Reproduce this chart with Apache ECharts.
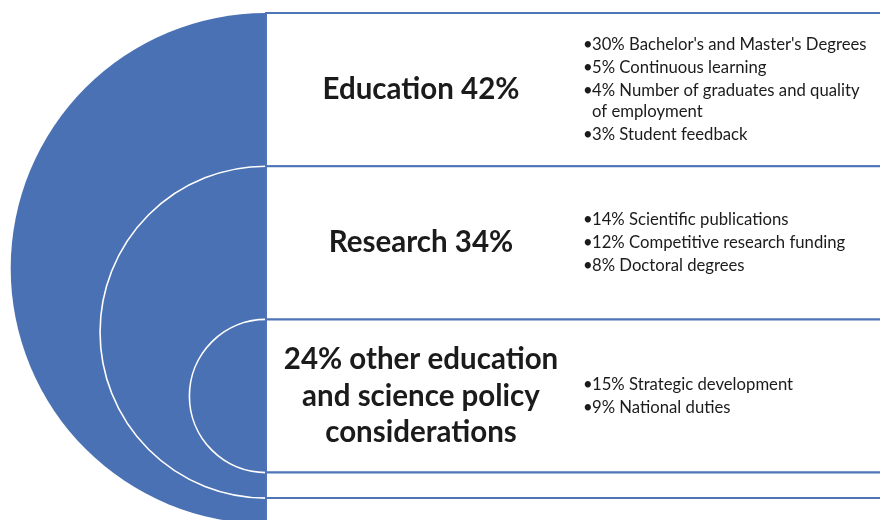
<!DOCTYPE html>
<html><head><meta charset="utf-8">
<script src="https://cdn.jsdelivr.net/npm/echarts@6/dist/echarts.min.js"></script>
<style>html,body{margin:0;padding:0;background:#fff}#main{width:880px;height:520px}</style>
</head><body><div id="main"></div>
<script>
// ---- data ----
const categories = ['Education', 'Research', 'Other education and science policy considerations'];
const shares = [42, 34, 24];
const titles = ['Education 42%', 'Research 34%', '24% other education\nand science policy\nconsiderations'];
const educationItems = ["30% Bachelor's and Master's Degrees", '5% Continuous learning', '4% Number of graduates and quality\nof employment', '3% Student feedback'];
const researchItems = ['14% Scientific publications', '12% Competitive research funding', '8% Doctoral degrees'];
const otherItems = ['15% Strategic development', '9% National duties'];
const detailItems = [educationItems, researchItems, otherItems];

// ---- layout / style ----
const BLUE = '#4A71B4';
const LINE = '#4E75B8';
const TEXT = '#1b1b1b';
const L = { boxLeft: 266, boxRight: 888, top: 13, rowH: 153.2, tail: 25.5,
            titleX: 421, bulletX: 583, textX: 592, itemGap: 23, wrapGap: 20.5,
            titleSize: 29.5, titleLH: 36.5, bodySize: 16.7 };

function rowTop(i) { return L.top + i * L.rowH; }

function renderCircle(params, api) {
  const i = params.dataIndex;
  const top = rowTop(i);
  const bottom = rowTop(categories.length) + (categories.length - 1 - i) * L.tail;
  const c = api.coord([L.boxLeft, (top + bottom) / 2]);
  const r = Math.abs(api.size([0, (bottom - top) / 2])[1]);
  const children = [{
    type: 'sector',
    shape: { cx: c[0], cy: c[1], r0: 0, r: r, startAngle: Math.PI / 2, endAngle: Math.PI * 1.5, clockwise: true },
    style: { fill: BLUE }
  }];
  if (i > 0) {
    children.push({
      type: 'arc',
      shape: { cx: c[0], cy: c[1], r: r, startAngle: Math.PI / 2, endAngle: Math.PI * 1.5, clockwise: true },
      style: { stroke: '#ffffff', lineWidth: 1.6, fill: null }
    });
  }
  return { type: 'group', children };
}

function boxRect(api, y0, y1) {
  const p0 = api.coord([L.boxLeft, y0]);
  const p1 = api.coord([L.boxRight, y1]);
  return { type: 'rect',
    shape: { x: p0[0], y: p0[1], width: p1[0] - p0[0], height: p1[1] - p0[1] },
    style: { fill: '#ffffff', stroke: LINE, lineWidth: 2 } };
}

function renderRow(params, api) {
  const i = params.dataIndex;
  const n = categories.length;
  const top = rowTop(i), bot = rowTop(i + 1), mid = (top + bot) / 2;
  const children = [];
  children.push(boxRect(api, top, bot));
  if (i === n - 1) {
    const base = rowTop(n);
    for (let k = 0; k < n - 1; k++) children.push(boxRect(api, base + k * L.tail, base + (k + 1) * L.tail));
  }
  const tp = api.coord([L.titleX, mid]);
  children.push({ type: 'text', style: {
    text: titles[i], x: tp[0], y: tp[1], align: 'center', verticalAlign: 'middle',
    fontFamily: 'Lato', fontWeight: 'bold', fontSize: L.titleSize, lineHeight: L.titleLH, fill: TEXT } });
  // bullets
  const lines = [];
  let y = 0;
  detailItems[i].forEach((item, k) => {
    item.split('\n').forEach((ln, j) => {
      if (k > 0 || j > 0) y += (j > 0 ? L.wrapGap : L.itemGap);
      lines.push({ text: ln, bullet: j === 0, y });
    });
  });
  const start = mid - y / 2;
  lines.forEach(ln => {
    const ty = start + ln.y;
    if (ln.bullet) {
      const bp = api.coord([L.bulletX, ty]);
      children.push({ type: 'text', style: { text: '\u2022', x: bp[0], y: bp[1], align: 'left', verticalAlign: 'middle',
        fontFamily: 'Lato', fontSize: L.bodySize, fill: TEXT } });
    }
    const p = api.coord([L.textX, ty]);
    children.push({ type: 'text', style: { text: ln.text, x: p[0], y: p[1], align: 'left', verticalAlign: 'middle',
      fontFamily: 'Lato', fontSize: L.bodySize, fill: TEXT } });
  });
  return { type: 'group', children };
}

const seriesData = categories.map((c, i) => ({ name: c, value: [i, shares[i]] }));

const chart = echarts.init(document.getElementById('main'), null, { renderer: 'canvas' });
chart.setOption({
  animation: false,
  backgroundColor: '#ffffff',
  grid: { left: 0, right: 0, top: 0, bottom: 0 },
  xAxis: { type: 'value', min: 0, max: 880, show: false },
  yAxis: { type: 'value', min: 0, max: 520, inverse: true, show: false },
  series: [
    { type: 'custom', name: 'circles', coordinateSystem: 'cartesian2d', clip: false, silent: true,
      data: seriesData, renderItem: renderCircle },
    { type: 'custom', name: 'boxes', coordinateSystem: 'cartesian2d', clip: false, silent: true,
      data: seriesData, renderItem: renderRow }
  ]
});
</script></body></html>
